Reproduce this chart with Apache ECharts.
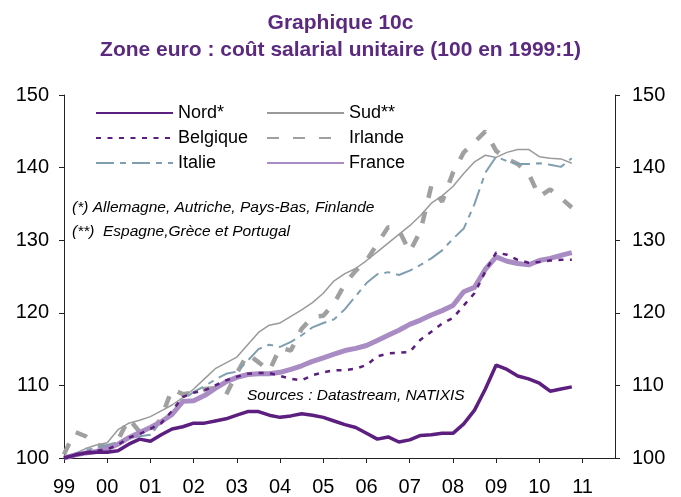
<!DOCTYPE html>
<html><head><meta charset="utf-8">
<script src="https://cdn.jsdelivr.net/npm/echarts@6/dist/echarts.min.js"></script>
<style>html,body{margin:0;padding:0;background:#fff}#c{width:681px;height:497px}</style>
</head><body><div id="c"></div>
<script>
// Quarterly categories 1999T1 .. 2010T4
const quarters = [];
for (let y = 1999; y <= 2010; y++) for (let q = 1; q <= 4; q++) quarters.push(y + 'T' + q);

const nord = [100.0,100.4,100.7,100.8, 100.8,101.0,101.9,102.6, 102.3,103.2,104.0,104.3,
  104.8,104.8,105.1,105.4, 105.9,106.4,106.4,105.9, 105.6,105.8,106.1,105.9,
  105.6,105.1,104.6,104.2, 103.4,102.6,102.9,102.2, 102.5,103.1,103.2,103.4,
  103.4,104.7,106.6,109.5, 112.8,112.2,111.3,110.9, 110.3,109.2,109.5,109.8];
const sud = [100.0,100.6,101.3,101.8, 102.1,103.9,104.8,105.2, 105.7,106.5,107.3,108.3,
  109.5,110.9,112.3,113.1, 113.9,115.6,117.3,118.3, 118.6,119.5,120.4,121.4,
  122.7,124.4,125.4,126.1, 127.2,128.4,129.6,130.8, 132.0,133.4,135.1,136.1,
  137.4,139.2,140.8,141.7, 141.4,142.1,142.5,142.5, 141.5,141.3,141.2,140.6];
const belgique = [100.0,100.5,100.8,101.0, 101.2,101.8,102.8,103.3, 104.0,104.8,106.5,108.4,
  109.0,109.3,110.0,110.7, 111.2,111.6,111.7,111.7, 111.3,110.9,110.7,111.4,
  111.8,112.1,112.1,112.3, 112.8,114.0,114.4,114.5, 114.6,116.3,117.4,118.5,
  119.3,121.0,122.7,125.7, 128.3,128.0,127.3,126.9, 127.0,127.2,127.3,127.3];
const irlande = [100.5,103.6,103.0,101.8, 101.5,102.5,105.4,103.6, 103.4,105.5,109.5,108.8,
  109.0,109.5,109.6,108.7, 111.7,114.3,113.2,112.0, 115.2,114.8,117.8,119.4,
  119.6,121.3,124.0,125.8, 127.2,129.5,131.8,131.4, 128.4,131.3,137.5,135.3,
  139.3,142.1,143.5,145.0, 142.3,141.2,140.5,139.2, 136.0,137.0,135.8,134.5];
const italie = [100.0,100.6,101.1,101.4, 101.8,102.2,102.7,103.0, 103.2,105.1,106.2,108.0,
  109.1,109.9,110.8,111.6, 111.9,113.4,115.0,115.6, 115.3,116.0,116.9,118.0,
  118.6,119.1,120.5,122.3, 124.1,125.3,125.6,125.2, 125.8,126.6,127.5,128.6,
  130.2,131.6,135.0,139.3, 141.5,140.9,140.5,140.5, 140.6,140.4,140.1,141.3];
const france = [100.0,100.4,100.7,100.9, 101.3,101.9,102.8,103.5, 104.2,105.0,106.0,107.8,
  107.9,108.6,109.6,110.5, 111.1,111.5,111.6,111.6, 111.8,112.2,112.7,113.3,
  113.8,114.3,114.8,115.1, 115.5,116.2,116.9,117.6, 118.4,119.0,119.7,120.3,
  121.0,122.9,123.5,126.0, 127.7,127.1,126.8,126.6, 127.2,127.5,127.9,128.3];

const xTickLabels = ['99','00','01','02','03','04','05','06','07','08','09','10','11'];
const yTicks = [100,110,120,130,140,150];

const FONT = '"Liberation Sans", Arial, sans-serif';

function toPairs(vals) {
  return vals.map((v, i) => {
    const parts = quarters[i].split('T');
    return [Number(parts[0]) + (Number(parts[1]) - 1) / 4, v];
  });
}

const chart = echarts.init(document.getElementById('c'), null, {renderer: 'canvas'});

const yAxisBase = {
  type: 'value', min: yTicks[0], max: yTicks[yTicks.length - 1], interval: 10,
  splitLine: {show: false},
  axisLine: {show: true, lineStyle: {color: '#222', width: 1}},
  axisTick: {show: true, inside: false, length: 5, lineStyle: {color: '#222'}},
  axisLabel: {fontSize: 20, color: '#000', fontFamily: FONT, margin: 15}
};

const legendBase = {
  orient: 'vertical', top: 99, itemWidth: 77, itemHeight: 14, itemGap: 7,
  selectedMode: false,
  itemStyle: {opacity: 0},
  textStyle: {fontSize: 18, color: '#000', fontFamily: FONT, lineHeight: 16}
};

const option = {
  animation: false,
  backgroundColor: '#fff',
  title: {
    text: 'Graphique 10c\nZone euro : coût salarial unitaire (100 en 1999:1)',
    left: 'center', top: 5,
    textStyle: {fontSize: 21, fontWeight: 'bold', color: '#5b2a80', fontFamily: FONT, lineHeight: 27}
  },
  grid: {left: 64, right: 66, top: 95, bottom: 39},
  legend: [
    Object.assign({}, legendBase, {left: 90, data: ['Nord*', 'Belgique', 'Italie']}),
    Object.assign({}, legendBase, {left: 261, data: ['Sud**', 'Irlande', 'France']})
  ],
  xAxis: {
    type: 'value', min: 1999, max: 2011.75, interval: 1,
    splitLine: {show: false},
    axisLine: {show: true, onZero: false, lineStyle: {color: '#222', width: 1}},
    axisTick: {show: true, inside: false, length: 5, lineStyle: {color: '#222'}},
    axisLabel: {
      fontSize: 20, color: '#000', fontFamily: FONT, margin: 19,
      showMaxLabel: false,
      formatter: v => (Number.isInteger(v) ? xTickLabels[v - 1999] : '')
    }
  },
  yAxis: [
    Object.assign({}, yAxisBase, {position: 'left'}),
    Object.assign({}, yAxisBase, {position: 'right', axisLabel: Object.assign({}, yAxisBase.axisLabel, {margin: 17})})
  ],
  series: [
    {name: 'Nord*', type: 'line', symbol: 'none', data: toPairs(nord), z: 6,
     lineStyle: {color: '#5c1f7f', width: 3.5}, itemStyle: {color: '#5c1f7f'}},
    {name: 'Sud**', type: 'line', symbol: 'none', data: toPairs(sud), z: 3,
     lineStyle: {color: '#9a9a9a', width: 1.5}, itemStyle: {color: '#9a9a9a'}},
    {name: 'Belgique', type: 'line', symbol: 'none', data: toPairs(belgique), z: 5,
     lineStyle: {color: '#5c1f7f', width: 2.5, type: [5, 6.5]}, itemStyle: {color: '#5c1f7f'}},
    {name: 'Irlande', type: 'line', symbol: 'none', data: toPairs(irlande), z: 2,
     lineStyle: {color: '#a0a0a0', width: 4.5, type: [12, 14]}, itemStyle: {color: '#a0a0a0'}},
    {name: 'Italie', type: 'line', symbol: 'none', data: toPairs(italie), z: 3,
     lineStyle: {color: '#7f9eb0', width: 2, type: [18, 6, 6, 6]}, itemStyle: {color: '#7f9eb0'}},
    {name: 'France', type: 'line', symbol: 'none', data: toPairs(france), z: 4,
     lineStyle: {color: '#a98cc4', width: 5}, itemStyle: {color: '#a98cc4'}}
  ],
  graphic: [
    {type: 'text', left: 72, top: 200, z: 10,
     style: {text: '(*) Allemagne, Autriche, Pays-Bas, Finlande', font: 'italic 15.5px ' + FONT, fill: '#000'}},
    {type: 'text', left: 72, top: 224, z: 10,
     style: {text: '(**)  Espagne,Grèce et Portugal', font: 'italic 15.5px ' + FONT, fill: '#000'}},
    {type: 'text', left: 247, top: 388, z: 10,
     style: {text: 'Sources : Datastream, NATIXIS', font: 'italic 15.5px ' + FONT, fill: '#000'}}
  ]
};
chart.setOption(option);
</script>
</body></html>
